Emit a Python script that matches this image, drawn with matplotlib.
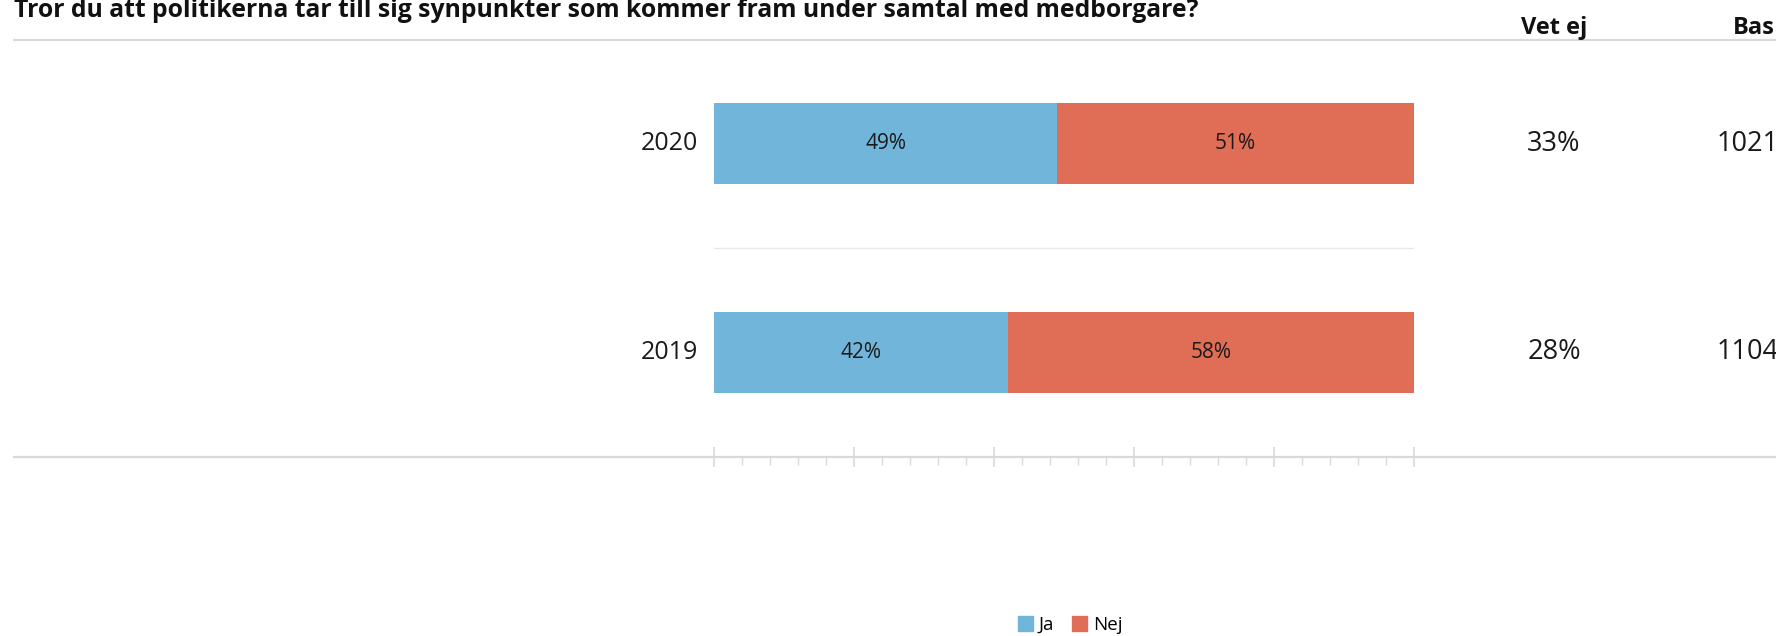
import matplotlib
matplotlib.use("Agg")
import matplotlib.pyplot as plt
import matplotlib.transforms as mtransforms
from matplotlib.lines import Line2D
from matplotlib.patches import Rectangle
from matplotlib.ticker import MultipleLocator

# ---- data ----
title = "Tror du att politikerna tar till sig synpunkter som kommer fram under samtal med medborgare?"
years = ["2019", "2020"]
ja = [42, 49]
nej = [58, 51]
vet_ej = ["28%", "33%"]
bas = ["1104", "1021"]
series_names = ["Ja", "Nej"]
colors = ["#71B5DA", "#E06D56"]

W, H = 1776, 636
plt.rcParams['font.family'] = ['Open Sans', 'DejaVu Sans']
fig = plt.figure(figsize=(W / 100, H / 100), dpi=100)

def fx(x):
    return x / W

def fy(y):
    return 1 - y / H

# plotting axes: x 714-1414 px, y 39.6-456.5 px
x0, x1 = 714, 1414
y0, y1 = 39.6, 456.5
ax = fig.add_axes([fx(x0), fy(y1), fx(x1) - fx(x0), (y1 - y0) / H])
ypos = list(range(len(years)))
ax.barh(ypos, ja, height=0.39, color=colors[0], label=series_names[0])
ax.barh(ypos, nej, left=ja, height=0.39, color=colors[1], label=series_names[1])
ax.set_xlim(0, 100)
ax.set_ylim(-0.5, 1.5)
for i in ypos:
    ax.text(ja[i] / 2, i, f"{ja[i]}%", ha='center', va='center', fontsize=15, color='#1a1a1a')
    ax.text(ja[i] + nej[i] / 2, i, f"{nej[i]}%", ha='center', va='center', fontsize=15, color='#1a1a1a')
# separator between categories
ax.axhline(0.5, color='#E8E8E8', lw=1)

for s in ax.spines.values():
    s.set_visible(False)
ax.set_yticks([])
ax.xaxis.set_major_locator(MultipleLocator(20))
ax.xaxis.set_minor_locator(MultipleLocator(4))
ax.tick_params(axis='x', which='major', direction='inout', length=14, width=1.2, color='#D9D9D9', labelbottom=False)
ax.tick_params(axis='x', which='minor', direction='out', length=6, width=1, color='#D9D9D9')
ax.patch.set_alpha(0)

# category labels and side columns
trans = mtransforms.blended_transform_factory(fig.transFigure, ax.transData)
for i in ypos:
    ax.text(fx(698), i, years[i], transform=trans, ha='right', va='center', fontsize=18, color='#1a1a1a')
    ax.text(fx(1554), i, vet_ej[i], transform=trans, ha='center', va='center', fontsize=19.5, color='#1a1a1a')
    ax.text(fx(1748), i, bas[i], transform=trans, ha='center', va='center', fontsize=19.5, color='#1a1a1a')

# horizontal rules spanning width
fig.add_artist(Line2D([fx(14), 1], [fy(39.6), fy(39.6)], color='#D9D9D9', lw=1.6, transform=fig.transFigure))
fig.add_artist(Line2D([fx(14), 1], [fy(456.5), fy(456.5)], color='#D9D9D9', lw=1.6, transform=fig.transFigure))

# title and headers
fig.text(fx(14), fy(17), title, ha='left', va='baseline', fontsize=17.8, fontweight='bold', color='#111111')
fig.text(fx(1554), fy(34), "Vet ej", ha='center', va='baseline', fontsize=17, fontweight='bold', color='#111111')
fig.text(fx(1733), fy(34), "Bas", ha='left', va='baseline', fontsize=17, fontweight='bold', color='#111111')

# legend
handles = [Rectangle((0, 0), 1, 1, color=c) for c in colors]
fig.legend(handles, series_names, loc='center', bbox_to_anchor=(fx(1070), fy(625)), ncol=2, frameon=False,
           fontsize=13.5, handlelength=0.8, handleheight=0.8, handletextpad=0.3, columnspacing=1.0)

fig.savefig("out.png", dpi=100)
